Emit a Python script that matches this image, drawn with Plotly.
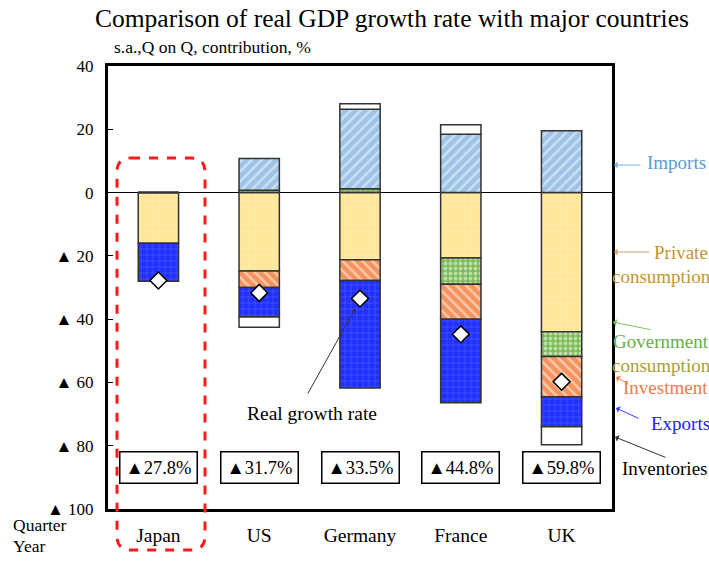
import plotly.graph_objects as go

# ---------------- data ----------------
countries = ["Japan", "US", "Germany", "France", "UK"]
private_cons = [-16.0, -24.8, -21.2, -20.7, -44.0]
government = [0.0, 0.7, 1.2, -8.3, -7.8]
investment = [0.0, -5.2, -6.6, -11.0, -12.7]
exports = [-12.0, -9.3, -34.0, -26.4, -9.5]
imports = [0.0, 10.1, 25.1, 18.4, 19.5]
inventories = [0.0, -3.3, 1.8, 3.0, -5.7]
growth = [-27.8, -31.7, -33.5, -44.8, -59.8]

ytick_vals = [40, 20, 0, -20, -40, -60, -80, -100]
ytick_text = [str(v) if v >= 0 else "\u25b2 " + str(-v) for v in ytick_vals]

W, H = 709, 561
L, R, T, B = 108, 612, 66, 509
SERIF = "Liberation Serif"


def px(x):
    return (x - L) / (R - L)


def py(y):
    return (B - y) / (B - T)


xs = list(range(len(countries)))
fig = go.Figure()

series = [
    ("Private consumption", private_cons, "#FFE699", dict(shape="+", fgcolor="#FFF4D2", size=6, solidity=0.15)),
    ("Government consumption", government, "#7DBB55", dict(shape=".", fgcolor="white", size=5, solidity=0.45)),
    ("Investment", investment, "#F3935E", dict(shape="\\", fgcolor="white", size=7, solidity=0.35)),
    ("Exports", exports, "#2030FF", dict(shape="+", fgcolor="#9AA4FF", size=6, solidity=0.15)),
    ("Imports", imports, "#9DC3E6", dict(shape="/", fgcolor="white", size=7, solidity=0.35)),
    ("Inventories", inventories, "#FFFFFF", None),
]
for name, vals, col, pat in series:
    marker = dict(color=col, line=dict(color="#333333", width=1.5))
    if pat:
        marker["pattern"] = pat
    fig.add_trace(go.Bar(x=xs, y=vals, name=name, width=0.4, marker=marker))

fig.add_trace(go.Scatter(
    x=xs, y=growth, mode="markers", name="Real growth rate",
    marker=dict(symbol="diamond", size=13, color="white", line=dict(color="black", width=1.5)),
    cliponaxis=False,
))

ann = []
# title + subtitle
ann.append(dict(xref="paper", yref="paper", x=px(392), y=py(18), text="Comparison of real GDP growth rate with major countries",
                showarrow=False, font=dict(family=SERIF, size=25.5, color="black"), xanchor="center", yanchor="middle"))
ann.append(dict(xref="paper", yref="paper", x=px(112), y=py(47), text="s.a.,Q on Q, contribution, %",
                showarrow=False, font=dict(family=SERIF, size=17.5, color="black"), xanchor="left", yanchor="middle"))
# quarter / year
ann.append(dict(xref="paper", yref="paper", x=px(11), y=py(525), text="Quarter", showarrow=False,
                font=dict(family=SERIF, size=17.5, color="black"), xanchor="left", yanchor="middle"))
ann.append(dict(xref="paper", yref="paper", x=px(11), y=py(546), text="Year", showarrow=False,
                font=dict(family=SERIF, size=17.5, color="black"), xanchor="left", yanchor="middle"))
# value boxes
for i, g in enumerate(growth):
    ann.append(dict(x=i, y=-87, xref="x", yref="y", text="\u25b2" + f"{abs(g):.1f}%", showarrow=False,
                    font=dict(family=SERIF, size=18.5, color="black"), bordercolor="black", borderwidth=1.5,
                    width=74, height=28, bgcolor="white"))
# real growth rate label
ann.append(dict(xref="paper", yref="paper", x=px(312), y=py(413), text="Real growth rate", showarrow=False,
                font=dict(family=SERIF, size=19.5, color="black"), xanchor="center", yanchor="middle"))
ann.append(dict(xref="paper", yref="paper", x=px(355), y=py(309), ax=307 - 355, ay=395 - 309, text="",
                showarrow=True, arrowhead=1, arrowsize=1, arrowwidth=1, arrowcolor="#333333"))

# right-side legend labels
labels = [
    ("Imports", 645, 162, "#5A9BD5"),
    ("Private", 652, 252, "#C4962C"),
    ("consumption", 610, 276, "#C4962C"),
    ("Government", 611, 341, "#6AAE48"),
    ("consumption", 610, 365, "#A8A032"),
    ("Investment", 621, 387, "#F27A4A"),
    ("Exports", 649, 423, "#2222FF"),
    ("Inventories", 620, 468, "black"),
]
for txt, lx, ly, col in labels:
    ann.append(dict(xref="paper", yref="paper", x=px(lx), y=py(ly), text=txt, showarrow=False,
                    font=dict(family=SERIF, size=19, color=col), xanchor="left", yanchor="middle"))

arrows = [
    (614, 165, 642, 165, "#7FB2E0"),
    (614, 252, 651, 252, "#C8A86A"),
    (613, 322, 652, 330, "#7CBF5E"),
    (616, 377, 630, 385, "#F08050"),
    (616, 408, 640, 419, "#3A3AFF"),
    (615, 437, 667, 458, "#333333"),
]
for hx, hy, tx, ty, col in arrows:
    ann.append(dict(xref="paper", yref="paper", x=px(hx), y=py(hy), ax=tx - hx, ay=ty - hy, text="",
                    showarrow=True, arrowhead=1, arrowsize=1.2, arrowwidth=1, arrowcolor=col))

# red dashed rounded rectangle around Japan
x0, x1, y0, y1, r = 117, 205, 158, 550, 14


def P(a, b):
    return f"{px(a):.5f},{py(b):.5f}"


path = (f"M {P(x0 + r, y0)} L {P(x1 - r, y0)} Q {P(x1, y0)} {P(x1, y0 + r)} "
        f"L {P(x1, y1 - r)} Q {P(x1, y1)} {P(x1 - r, y1)} "
        f"L {P(x0 + r, y1)} Q {P(x0, y1)} {P(x0, y1 - r)} "
        f"L {P(x0, y0 + r)} Q {P(x0, y0)} {P(x0 + r, y0)} Z")
shapes = [dict(type="path", xref="paper", yref="paper", path=path,
               line=dict(color="#FF1A1A", width=3, dash="dash"), layer="above")]

fig.update_layout(
    width=W, height=H,
    margin=dict(l=L, r=W - R, t=T, b=H - B, pad=0),
    barmode="relative",
    plot_bgcolor="white", paper_bgcolor="white",
    showlegend=False,
    annotations=ann,
    shapes=shapes,
    font=dict(family=SERIF, color="black"),
)
fig.update_xaxes(range=[-0.5, 4.5], tickvals=xs, ticktext=countries, showgrid=False, zeroline=False,
                 showline=True, mirror=True, linecolor="black", linewidth=3, ticks="",
                 tickfont=dict(family=SERIF, size=19.5, color="black"), ticklabelstandoff=7)
fig.update_yaxes(range=[-100, 40], tickvals=ytick_vals, ticktext=ytick_text, showgrid=False,
                 zeroline=True, zerolinecolor="black", zerolinewidth=1,
                 showline=True, mirror=True, linecolor="black", linewidth=3,
                 ticks="inside", ticklen=5, tickcolor="black", tickwidth=1,
                 tickfont=dict(family=SERIF, size=17, color="black"), ticklabelstandoff=8)

fig.write_html("out.html", config={"displayModeBar": False},
               post_script="document.body.style.margin='0';document.body.style.overflow='hidden';")
